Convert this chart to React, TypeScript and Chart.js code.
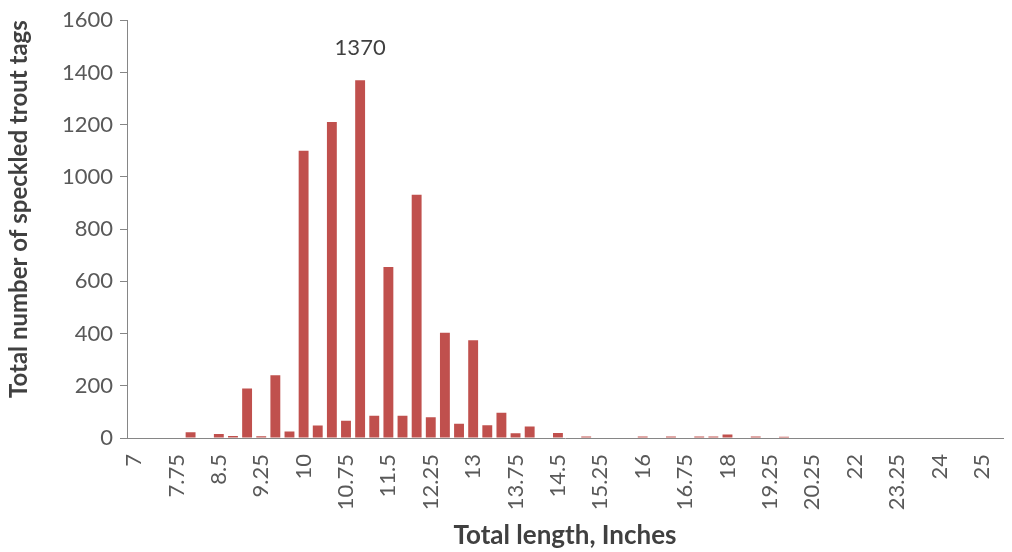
import React, { useEffect, useRef } from 'react';
import { Chart, registerables } from 'chart.js';

Chart.register(...registerables);

// Category labels (total length, inches)
const lengths: string[] = [
  '7', '7.25', '7.5', '7.75', '8', '8.25', '8.5', '8.75', '9', '9.25',
  '9.5', '9.75', '10', '10.25', '10.5', '10.75', '11', '11.25', '11.5', '11.75',
  '12', '12.25', '12.5', '12.75', '13', '13.25', '13.5', '13.75', '14', '14.25',
  '14.5', '14.75', '15', '15.25', '15.5', '15.75', '16', '16.25', '16.5', '16.75',
  '17', '17.5', '18', '18.5', '19', '19.25', '19.5', '20', '20.25', '20.5',
  '21', '22', '22.5', '23', '23.25', '23.5', '23.75', '24', '24.5', '24.75',
  '25', '26',
];

// Number of speckled trout tags per length class
const tagCounts: number[] = [
  0, 0, 0, 0, 22, 0, 15, 8, 190, 7,
  240, 25, 1100, 48, 1210, 66, 1370, 85, 655, 85,
  932, 79, 403, 55, 374, 49, 97, 18, 44, 0,
  19, 0, 6, 0, 0, 0, 6, 0, 6, 0,
  6, 6, 13, 0, 6, 0, 5, 0, 0, 0,
  0, 0, 0, 0, 0, 0, 0, 0, 0, 0,
  0, 0,
];

const yMin = 0;
const yMax = 1600;
const yStep = 200;
const labelEvery = 3;

const xTitle = 'Total length, Inches';
const yTitle = 'Total number of speckled trout tags';

const barColor = '#C0504D';
const axisColor = '#868686';
const tickColor = '#595959';
const titleColor = '#404040';
const fontFamily = 'Lato, "Open Sans", sans-serif';

const peakLabelPlugin = {
  id: 'peakLabel',
  afterDatasetsDraw(chart: any) {
    const data = chart.data.datasets[0].data as number[];
    let maxI = 0;
    data.forEach((v, i) => {
      if (v > data[maxI]) maxI = i;
    });
    const el = chart.getDatasetMeta(0).data[maxI];
    if (!el) return;
    const ctx = chart.ctx;
    ctx.save();
    ctx.font = `22px ${fontFamily}`;
    ctx.fillStyle = titleColor;
    ctx.textAlign = 'center';
    ctx.textBaseline = 'alphabetic';
    ctx.fillText(String(data[maxI]), el.x, el.y - 25);
    ctx.restore();
  },
};

export default function App() {
  const canvasRef = useRef<HTMLCanvasElement | null>(null);

  useEffect(() => {
    if (!canvasRef.current) return;
    const chart = new Chart(canvasRef.current, {
      type: 'bar',
      data: {
        labels: lengths,
        datasets: [
          {
            data: tagCounts,
            backgroundColor: barColor,
            borderWidth: 0,
            categoryPercentage: 1,
            barPercentage: 0.7,
          },
        ],
      },
      options: {
        animation: false,
        responsive: false,
        layout: { padding: { top: 20, right: 9, left: 0, bottom: 0 } },
        plugins: {
          legend: { display: false },
          tooltip: { enabled: false },
        },
        scales: {
          x: {
            grid: { display: false },
            border: { display: true, color: axisColor, width: 1 },
            ticks: {
              autoSkip: false,
              minRotation: 90,
              maxRotation: 90,
              padding: 8,
              color: tickColor,
              font: { family: fontFamily, size: 22 },
              callback: (_v: any, i: number) => (i % labelEvery === 0 ? lengths[i] : ''),
            },
            title: {
              display: true,
              text: xTitle,
              color: titleColor,
              font: { family: fontFamily, size: 26, weight: 'bold' },
              padding: { top: 0, bottom: 1 },
            },
            afterFit: (scale: any) => {
              scale.height = 114;
              scale.paddingLeft = 0;
              scale.paddingRight = 0;
            },
          },
          y: {
            min: yMin,
            max: yMax,
            grid: {
              drawOnChartArea: false,
              drawTicks: true,
              tickLength: 7,
              color: axisColor,
            },
            border: { display: true, color: axisColor, width: 1 },
            ticks: {
              stepSize: yStep,
              padding: 7,
              color: tickColor,
              font: { family: fontFamily, size: 22 },
              callback: (v: any) => String(v),
            },
            title: {
              display: true,
              text: yTitle,
              align: 'end',
              color: titleColor,
              font: { family: fontFamily, size: 24, weight: 'bold' },
              padding: { top: 5, bottom: 0 },
            },
            afterFit: (scale: any) => {
              scale.width = 127;
            },
          },
        },
      },
      plugins: [peakLabelPlugin],
    } as any);
    return () => chart.destroy();
  }, []);

  return (
    <div style={{ position: 'fixed', left: 0, top: 0, width: 1012, height: 552, background: '#fff' }}>
      <canvas ref={canvasRef} width={1012} height={552} style={{ display: 'block' }} />
    </div>
  );
}
